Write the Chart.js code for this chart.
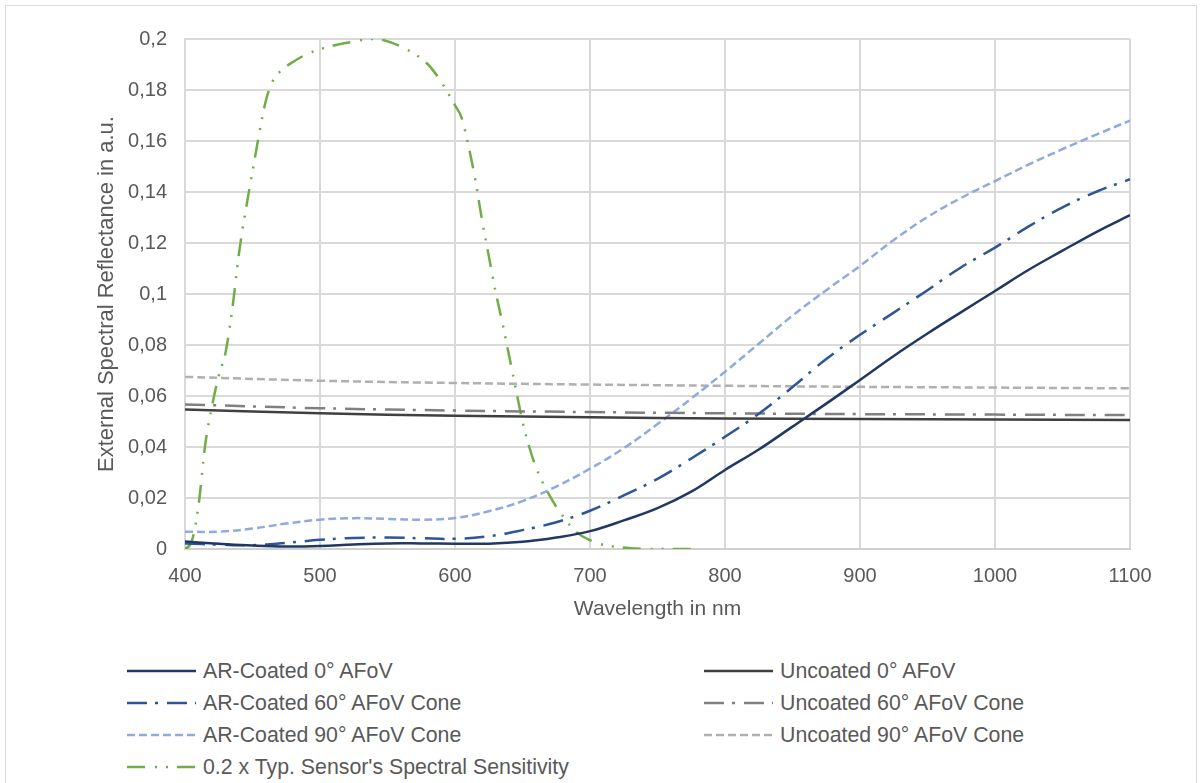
<!DOCTYPE html>
<html lang="en">
  <head>
    <meta charset="UTF-8" />
    <title>External Spectral Reflectance</title>
    <script src="https://cdn.jsdelivr.net/npm/chart.js"></script>
    <style>
      html,
      body {
        width: 100%;
        height: 100%;
        margin: 0;
        padding: 0;
        background: #ffffff;
        overflow: hidden;
        font-family: "Liberation Sans", Arial, sans-serif;
      }
      #frame {
        position: absolute;
        left: 5px;
        top: 5px;
        width: 1190px;
        height: 820px;
        border: 1.5px solid #d9d9d9;
      }
      #wrap {
        position: absolute;
        left: 0;
        top: 0;
        width: 1203px;
        height: 640px;
      }
      .item {
        position: absolute;
        height: 26px;
        display: flex;
        align-items: center;
        color: #595959;
        font-size: 21.3px;
        white-space: nowrap;
      }
      .item svg {
        margin-right: 7px;
      }
    </style>
  </head>
  <body>
    <div id="frame"></div>
    <div id="wrap">
      <canvas id="chart" width="1203" height="640"></canvas>
    </div>
    <div id="legend"></div>

    <script>
      // wavelengths (nm) for the coated curves
      const wlCoated = [
        400, 425, 450, 475, 500, 525, 550, 575, 600, 625, 650, 675, 700, 725,
        750, 775, 800, 825, 850, 875, 900, 925, 950, 975, 1000, 1025, 1050,
        1075, 1100,
      ];
      const arCoated0 = [
        0.0029, 0.0021, 0.0014, 0.001, 0.0012, 0.0018, 0.0022, 0.0022, 0.0021,
        0.0021, 0.0028, 0.0045, 0.007, 0.0112, 0.016, 0.0225, 0.031, 0.039,
        0.048, 0.057, 0.0663, 0.0757, 0.0845, 0.0929, 0.1012, 0.1095, 0.117,
        0.1243, 0.1309,
      ];
      const arCoated60 = [
        0.0022, 0.0017, 0.0015, 0.0024, 0.0036, 0.0043, 0.0045, 0.0042, 0.004,
        0.005, 0.0074, 0.0105, 0.015, 0.021, 0.0275, 0.0355, 0.044, 0.053,
        0.0635, 0.0745, 0.084, 0.0927, 0.1015, 0.1105, 0.1182, 0.1265, 0.134,
        0.1401, 0.145,
      ];
      const arCoated90 = [
        0.0068, 0.0068, 0.008, 0.01, 0.0115, 0.0121, 0.0118, 0.0115, 0.0122,
        0.0148, 0.0188, 0.0245, 0.0315, 0.0395, 0.049, 0.059, 0.0695, 0.0805,
        0.0915, 0.1015, 0.111, 0.1212, 0.1302, 0.1377, 0.1443, 0.1508, 0.1568,
        0.1625, 0.168,
      ];

      // wavelengths (nm) for the uncoated curves
      const wlUncoated = [400, 500, 600, 700, 800, 900, 1000, 1100];
      const uncoated0 = [
        0.0547, 0.0532, 0.0523, 0.0517, 0.0512, 0.051, 0.0508, 0.0506,
      ];
      const uncoated60 = [
        0.0567, 0.0552, 0.0543, 0.0537, 0.0532, 0.0529, 0.0527, 0.0525,
      ];
      const uncoated90 = [
        0.0675, 0.066, 0.0651, 0.0645, 0.064, 0.0636, 0.0633, 0.063,
      ];

      // sensor sensitivity (scaled by 0.2)
      const wlSensor = [
        400, 405, 410, 415, 420, 425, 430, 435, 440, 445, 450, 455, 460, 465,
        470, 480, 490, 500, 520, 540, 560, 580, 590, 600, 605, 610, 615, 620,
        625, 630, 635, 640, 645, 650, 655, 660, 670, 680, 690, 700, 710, 720,
        730, 750, 778,
      ];
      const sensor = [
        0, 0.003, 0.017, 0.041, 0.056, 0.068, 0.077, 0.094, 0.116, 0.133,
        0.148, 0.163, 0.176, 0.1835, 0.187, 0.191, 0.194, 0.196, 0.1985, 0.2,
        0.197, 0.19, 0.183, 0.174, 0.169, 0.158, 0.145, 0.129, 0.115, 0.101,
        0.089, 0.076, 0.063, 0.05, 0.04, 0.032, 0.021, 0.0128, 0.0066, 0.0035,
        0.0016, 0.0008, 0.0003, 0, 0,
      ];

      const seriesLabels = [
        "AR-Coated 0° AFoV",
        "Uncoated 0° AFoV",
        "AR-Coated 60° AFoV Cone",
        "Uncoated 60° AFoV Cone",
        "AR-Coated 90° AFoV Cone",
        "Uncoated 90° AFoV Cone",
        "0.2 x Typ. Sensor's Spectral Sensitivity",
      ];

      const toPoints = (xs, ys) => xs.map((x, i) => ({ x: x, y: ys[i] }));

      const longDashDot = [20, 8, 3, 9];
      const shortDash = [8, 4];
      const longDashDotDot = [18, 10, 2, 9, 2, 9];

      const makeSet = (label, xs, ys, color, dash, mono) => ({
        label: label,
        data: toPoints(xs, ys),
        borderColor: color,
        backgroundColor: color,
        borderWidth: 2.5,
        borderDash: dash,
        borderCapStyle: "butt",
        pointRadius: 0,
        fill: false,
        tension: 0.4,
        cubicInterpolationMode: mono ? "monotone" : "default",
      });

      const datasets = [
        makeSet(seriesLabels[0], wlCoated, arCoated0, "#203864", []),
        makeSet(seriesLabels[1], wlUncoated, uncoated0, "#404040", []),
        makeSet(seriesLabels[2], wlCoated, arCoated60, "#2f5597", longDashDot),
        makeSet(seriesLabels[3], wlUncoated, uncoated60, "#808080", longDashDot),
        makeSet(seriesLabels[4], wlCoated, arCoated90, "#8faadc", shortDash),
        makeSet(seriesLabels[5], wlUncoated, uncoated90, "#b0b0b0", shortDash),
        makeSet(seriesLabels[6], wlSensor, sensor, "#70ad47", longDashDotDot, true),
      ];

      const txt = "#595959";
      const fam = "'Liberation Sans', Arial";
      const ctx = document.getElementById("chart").getContext("2d");

      const myChart = new Chart(ctx, {
        type: "line",
        data: { datasets: datasets },
        options: {
          responsive: false,
          animation: false,
          layout: {
            padding: { left: 0, right: 73, top: 39, bottom: 11 },
          },
          plugins: {
            legend: { display: false },
            tooltip: { enabled: false },
          },
          scales: {
            x: {
              type: "linear",
              min: 400,
              max: 1100,
              afterFit: (s) => {
                s.height = 80;
              },
              ticks: {
                stepSize: 100,
                color: txt,
                padding: 15,
                font: { family: fam, size: 20 },
                callback: (v) => String(v),
              },
              grid: { color: "#d9d9d9", lineWidth: 2, drawTicks: false },
              border: { color: "#d0d0d0", width: 2 },
              title: {
                display: true,
                text: "Wavelength in nm",
                color: txt,
                padding: { top: 0, bottom: 7 },
                font: { family: fam, size: 21 },
              },
            },
            y: {
              min: 0,
              max: 0.2,
              afterFit: (s) => {
                s.width = 185;
              },
              ticks: {
                stepSize: 0.02,
                color: txt,
                padding: 18,
                font: { family: fam, size: 20 },
                callback: (v) => String(Math.round(v * 100) / 100).replace(".", ","),
              },
              grid: { color: "#d9d9d9", lineWidth: 2, drawTicks: false },
              border: { color: "#d9d9d9", width: 2 },
              title: {
                display: true,
                text: "External Spectral Reflectance in a.u.",
                color: txt,
                padding: { top: 94, bottom: 0 },
                font: { family: fam, size: 22 },
              },
            },
          },
        },
      });

      // two-column legend, filled row by row
      const legend = document.getElementById("legend");
      datasets.forEach((ds, i) => {
        const col = i % 2;
        const row = Math.floor(i / 2);
        const item = document.createElement("div");
        item.className = "item";
        item.style.left = (col === 0 ? 127 : 704) + "px";
        item.style.top = 658 + row * 32 + "px";
        const dash = ds.borderDash.length ? ds.borderDash.join(" ") : "none";
        item.innerHTML =
          '<svg width="69" height="10"><line x1="0" y1="5" x2="69" y2="5" stroke="' +
          ds.borderColor +
          '" stroke-width="2.5" stroke-dasharray="' +
          dash +
          '"/></svg>';
        const span = document.createElement("span");
        span.textContent = ds.label;
        item.appendChild(span);
        legend.appendChild(item);
      });
    </script>
  </body>
</html>
